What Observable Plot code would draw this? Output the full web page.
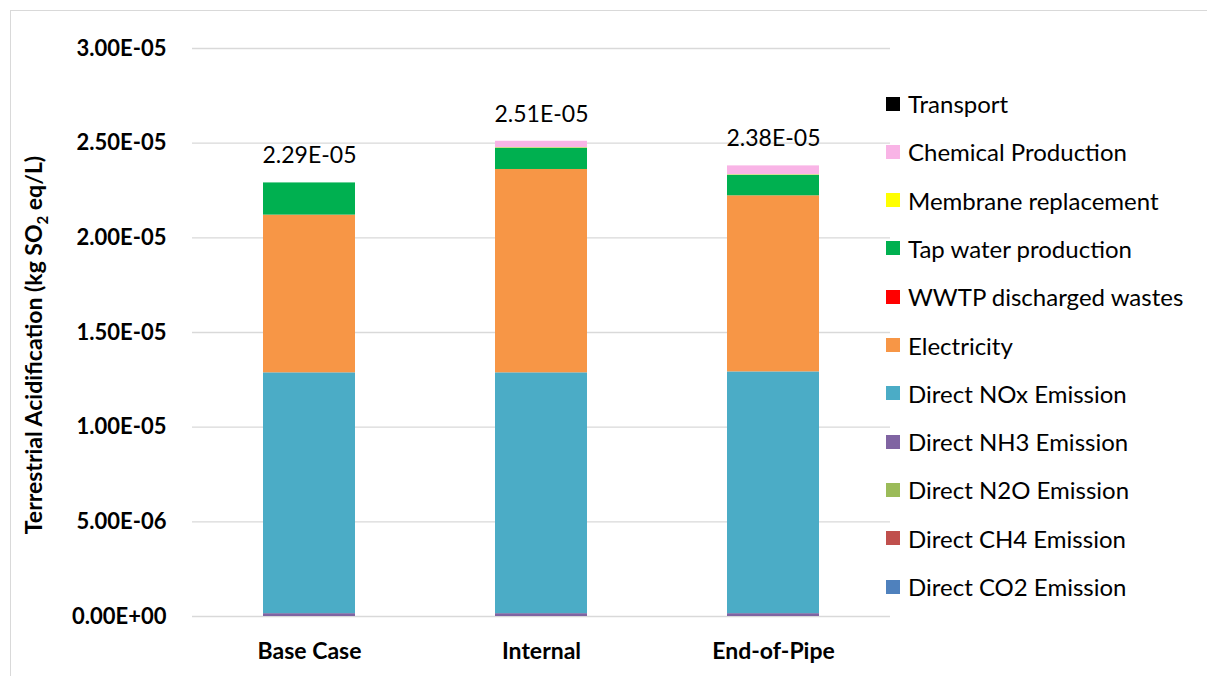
<!DOCTYPE html>
<html>
<head>
<meta charset="utf-8">
<script src="https://cdn.jsdelivr.net/npm/d3@7"></script>
<script src="https://cdn.jsdelivr.net/npm/@observablehq/plot@0.6"></script>
<style>
  html, body { margin: 0; padding: 0; background: #fff; }
  #wrap { position: relative; width: 1207px; height: 676px; overflow: hidden; font-family: Lato, "Open Sans", sans-serif; }
  #frame { position: absolute; left: 10px; top: 10px; width: 1210px; height: 680px; border: 1.5px solid #d9d9d9; box-sizing: border-box; }
  #legend { position: absolute; left: 886px; top: 89px; }
  .item { position: absolute; left: 0; display: flex; align-items: center; white-space: nowrap; font-size: 24px; color: #000; }
  .sw { width: 14px; height: 14px; margin-right: 8px; }
</style>
</head>
<body>
<div id="wrap"><div id="frame"></div><div id="chart"></div><div id="legend"></div></div>
<script>
// Scenarios on the x axis
const scenarios = ["Base Case", "Internal", "End-of-Pipe"];

// Contribution categories, bottom of the stack first
const categories = [
  "Direct CO2 Emission", "Direct CH4 Emission", "Direct N2O Emission", "Direct NH3 Emission",
  "Direct NOx Emission", "Electricity", "WWTP discharged wastes", "Tap water production",
  "Membrane replacement", "Chemical Production", "Transport"
];
const colors = [
  "#4F81BD", "#C0504D", "#9BBB59", "#8064A2",
  "#4BACC6", "#F79646", "#FF0000", "#00B050",
  "#FFFF00", "#F9B4E6", "#000000"
];

// Values in kg SO2 eq/L, one entry per scenario (Base Case, Internal, End-of-Pipe)
const directCO2   = [0, 0, 0];
const directCH4   = [0, 0, 0];
const directN2O   = [0, 0, 0];
const directNH3   = [0.15e-6, 0.15e-6, 0.15e-6];
const directNOx   = [12.72e-6, 12.72e-6, 12.77e-6];
const electricity = [8.33e-6, 10.74e-6, 9.30e-6];
const wwtp        = [0, 0, 0];
const tapWater    = [1.70e-6, 1.13e-6, 1.09e-6];
const membrane    = [0, 0.02e-6, 0.02e-6];
const chemical    = [0, 0.34e-6, 0.47e-6];
const transport   = [0, 0, 0];

const yTicks = [0, 5e-6, 1e-5, 1.5e-5, 2e-5, 2.5e-5, 3e-5];

const series = [directCO2, directCH4, directN2O, directNH3, directNOx, electricity,
                wwtp, tapWater, membrane, chemical, transport];

const rows = [];
categories.forEach((c, i) => scenarios.forEach((s, j) => rows.push({scenario: s, category: c, value: series[i][j]})));
const totals = scenarios.map((s, j) => ({scenario: s, total: d3.sum(series, a => a[j])}));

// Excel-style scientific notation, e.g. 2.29E-05
function sci(v) {
  if (v === 0) return "0.00E+00";
  const [m, e] = v.toExponential(2).split("e");
  const n = +e;
  return m + "E" + (n < 0 ? "-" : "+") + String(Math.abs(n)).padStart(2, "0");
}

const chart = Plot.plot({
  width: 1207,
  height: 676,
  marginLeft: 192,
  marginRight: 317,
  marginTop: 48,
  marginBottom: 60,
  style: {fontFamily: "Lato, 'Open Sans', sans-serif", background: "transparent", overflow: "visible"},
  x: {domain: scenarios, paddingInner: 0.605, paddingOuter: 0.3025, label: null, tickSize: 0, tickPadding: 26},
  y: {domain: [0, 3e-5], ticks: yTicks, tickFormat: sci, label: null, tickSize: 0, tickPadding: 26},
  color: {domain: categories, range: colors},
  marks: [
    Plot.ruleY(yTicks, {stroke: "#d9d9d9", strokeWidth: 1.3}),
    Plot.barY(rows, {x: "scenario", y: "value", fill: "category", order: categories}),
    Plot.text(totals, {x: "scenario", y: "total", text: d => sci(d.total), dy: -27, fontSize: 23, fill: "#000"})
  ]
});

const svg = d3.select(chart);
svg.selectAll("[aria-label='y-axis tick label']").attr("font-size", 22).attr("font-weight", "bold").attr("fill", "#000");
svg.selectAll("[aria-label='x-axis tick label']").attr("font-size", 23).attr("font-weight", "bold").attr("fill", "#000");

// Rotated y-axis title with subscript 2
const title = svg.append("text")
  .attr("transform", "translate(42,345) rotate(-90)")
  .attr("text-anchor", "middle")
  .attr("font-size", 23)
  .attr("font-weight", "bold")
  .attr("fill", "#000");
title.append("tspan").text("Terrestrial Acidification (kg SO");
title.append("tspan").attr("font-size", 15).attr("dy", 6).text("2");
title.append("tspan").attr("dy", -6).text(" eq/L)");

document.getElementById("chart").appendChild(chart);

// Legend, top to bottom in reverse stacking order
const legend = d3.select("#legend");
categories.slice().reverse().forEach((c, i) => {
  const k = categories.length - 1 - i;
  const item = legend.append("div").attr("class", "item").style("top", (i * 48.3) + "px");
  item.append("div").attr("class", "sw").style("background", colors[k]);
  item.append("span").text(c);
});
</script>
</body>
</html>
